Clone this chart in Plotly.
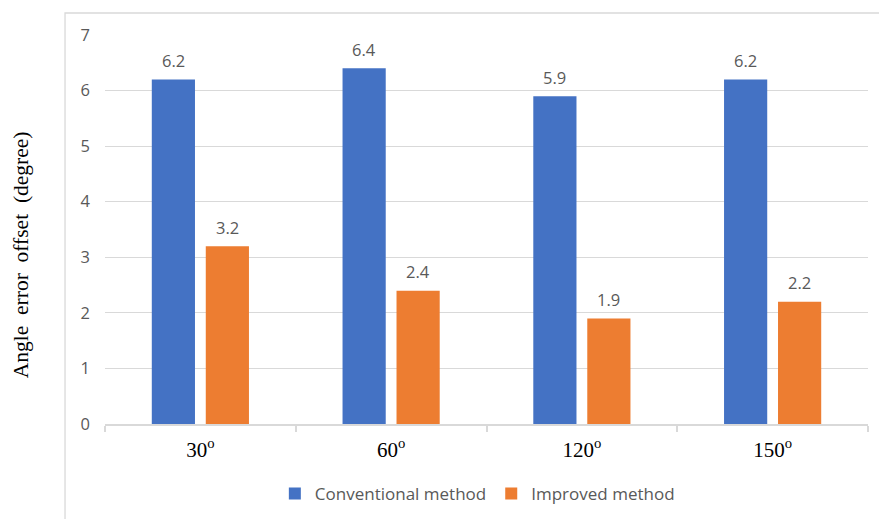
import plotly.graph_objects as go

# Test angles and measured angle error offsets (degrees)
angles = ["30<sup>o</sup>", "60<sup>o</sup>", "120<sup>o</sup>", "150<sup>o</sup>"]
conventional = [6.2, 6.4, 5.9, 6.2]
improved = [3.2, 2.4, 1.9, 2.2]
series_names = ["Conventional method", "Improved method"]
y_ticks = [0, 1, 2, 3, 4, 5, 6, 7]

BLUE = "#4472C4"
ORANGE = "#ED7D31"
GRID = "#D9D9D9"
LABEL_GREY = "#595959"
SANS = "Open Sans"
SERIF = "Liberation Serif"

fig = go.Figure()
fig.add_trace(go.Bar(x=angles, y=conventional, name=series_names[0],
                     marker=dict(color=BLUE, line=dict(width=0))))
fig.add_trace(go.Bar(x=angles, y=improved, name=series_names[1],
                     marker=dict(color=ORANGE, line=dict(width=0))))

# value labels above each bar
annotations = []
for values, shift in ((conventional, -27), (improved, 27)):
    for cat, v in zip(angles, values):
        annotations.append(dict(
            x=cat, y=v, xref="x", yref="y", text=f"{v:.1f}",
            showarrow=False, xshift=shift, yshift=19, yanchor="middle",
            font=dict(family=SANS, size=16.5, color=LABEL_GREY)))

# rotated y-axis title
annotations.append(dict(
    x=-0.110, y=0.434, xref="paper", yref="paper",
    text="Angle \u00a0error \u00a0offset \u00a0(degree)",
    textangle=-90, showarrow=False, xanchor="center", yanchor="middle",
    font=dict(family=SERIF, size=21.5, color="#000000")))

fig.update_layout(
    width=879, height=519,
    margin=dict(l=105, r=11, t=35, b=95, autoexpand=False),
    paper_bgcolor="white", plot_bgcolor="white",
    barmode="group", bargap=0.434, bargroupgap=0.2,
    showlegend=True,
    legend=dict(orientation="h", x=0.488, xanchor="center", y=-0.18,
                yanchor="middle", font=dict(family=SANS, size=17, color=LABEL_GREY),
                itemwidth=30, traceorder="normal"),
    annotations=annotations,
    shapes=[dict(type="path", xref="paper", yref="paper",
                 path="M -0.0524,-0.5 L -0.0524,1.0566 L 1.2,1.0566",
                 line=dict(color=GRID, width=1.3))],
)

fig.update_xaxes(
    showgrid=False, showline=True, linecolor=GRID, linewidth=1.5,
    ticks="outside", tickson="boundaries", ticklen=6, tickcolor=GRID, tickwidth=1.5,
    tickfont=dict(family=SERIF, size=21, color="#000000"),
    ticklabelstandoff=6, range=[-0.5, 3.5],
)
fig.update_yaxes(
    range=[0, 7], tickvals=y_ticks, showgrid=True, gridcolor=GRID, gridwidth=1.2,
    zeroline=False, showline=False, ticks="",
    tickfont=dict(family=SANS, size=16.5, color=LABEL_GREY),
    ticklabelstandoff=14,
)

fig.write_html("out.html")
